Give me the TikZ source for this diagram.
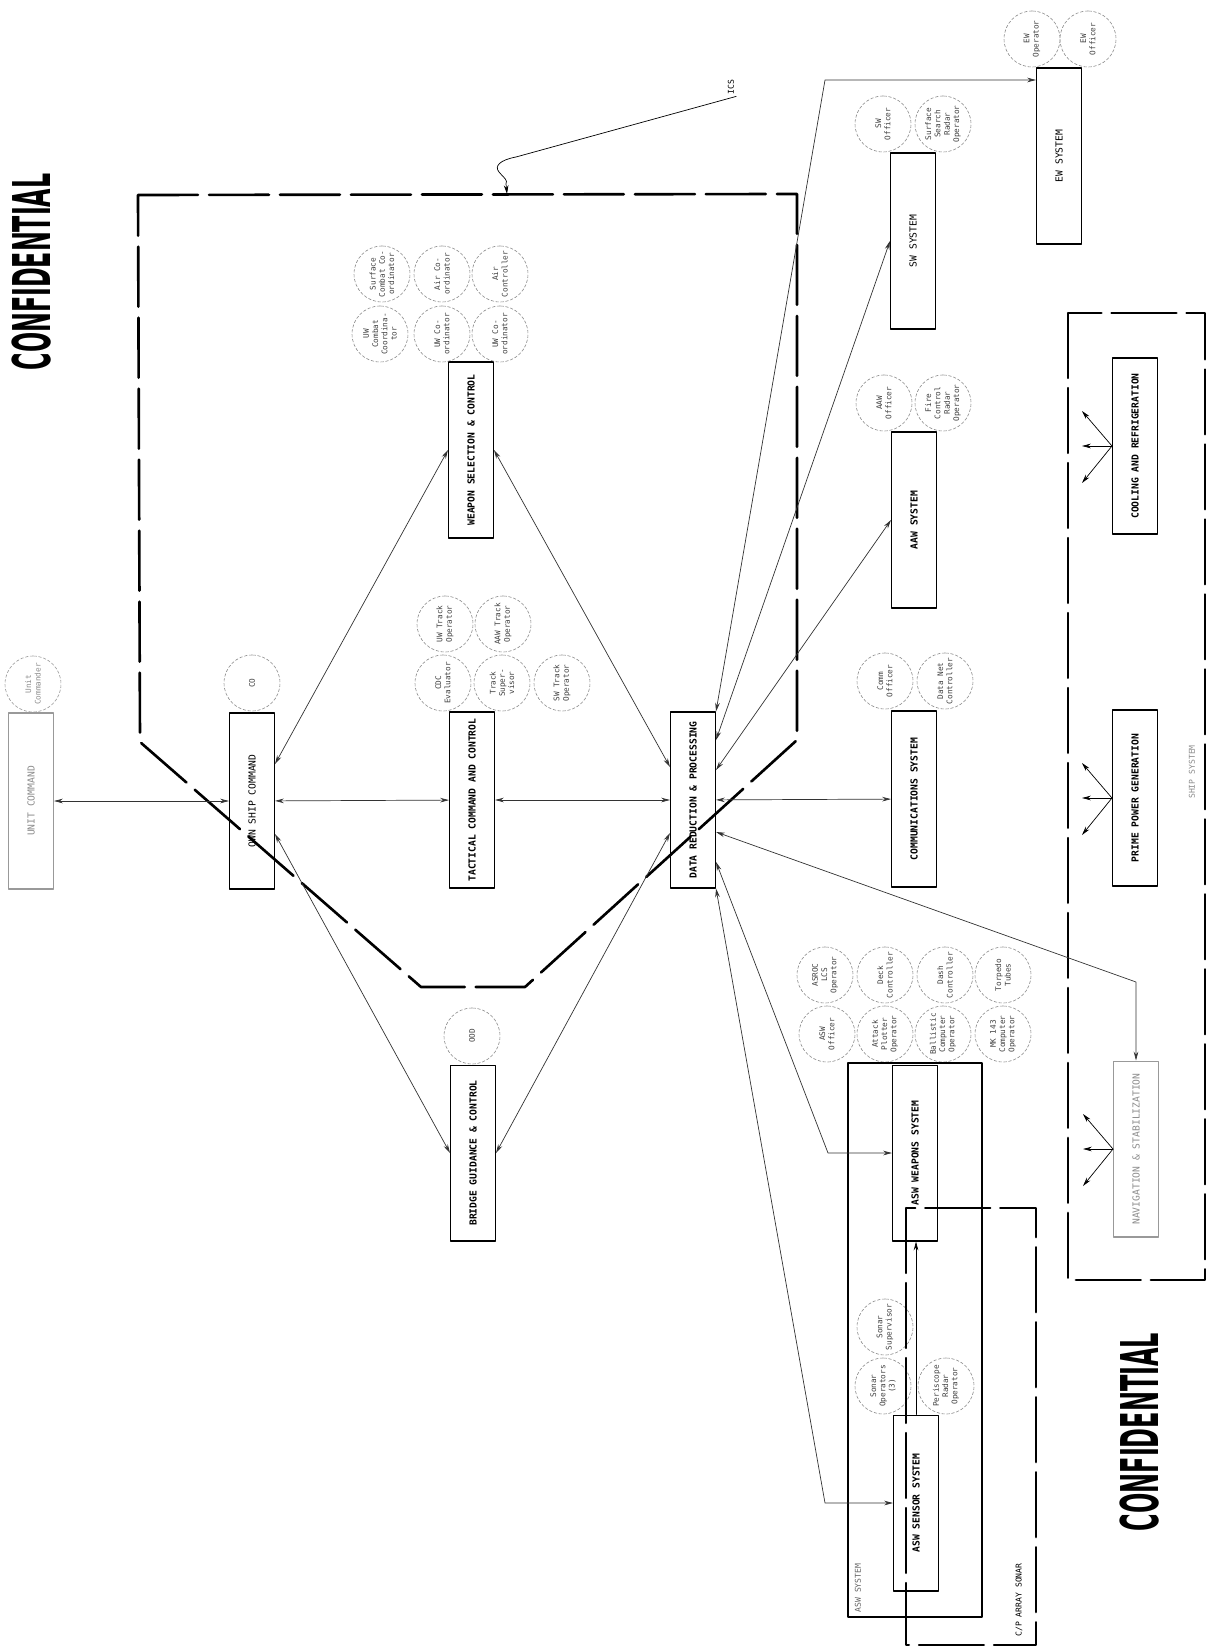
\documentclass[tikz,border=0pt]{standalone}
\usepackage{fontspec}
\setmonofont{DejaVu Sans Mono}
\setsansfont{DejaVu Sans}
\usepackage{graphicx}
\usetikzlibrary{arrows.meta,calc}
\tikzset{
  every picture/.style={line join=round, line cap=round, >={Stealth[length=5pt,width=2.6pt]}},
  sysbox/.style={draw, line width=0.6pt, minimum width=0.9cm, minimum height=3.52cm, inner sep=0pt, font=\ttfamily\fontsize{5.5}{6}\selectfont},
  faint/.style={draw=black!40, text=black!45},
  person/.style={circle, draw=black!45, dash pattern=on 1.6pt off 1.2pt, line width=0.35pt, minimum size=1.12cm, inner sep=-3pt, rotate=90, align=center, font=\ttfamily\fontsize{4.4}{5.3}\selectfont, text=black!75},
  link/.style={<->, line width=0.4pt, draw=black!80},
  icsline/.style={line width=1.5pt, dash pattern=on 1.2cm off 0.22cm},
  groupline/.style={line width=1.3pt, dash pattern=on 1.3cm off 0.2cm},
  stamp/.style={rotate=90, inner sep=0pt, font=\sffamily\bfseries},
  tag/.style={rotate=90, inner sep=1pt, font=\ttfamily\fontsize{4.6}{5}\selectfont},
}

\begin{document}
\begin{tikzpicture}[x=0.02cm,y=-0.02cm]
\useasboundingbox (0,0) rectangle (1209,1648);

\node[stamp] (conftop) at (32,272) {\resizebox{112pt}{22pt}{CONFIDENTIAL}};
\node[stamp] (confbot) at (1140,1432) {\resizebox{113pt}{22pt}{CONFIDENTIAL}};

% ICS boundary
\draw[icsline] (138,195) -- (797,194) -- (797,740) -- (525,987) -- (421,987) -- (140,742) -- cycle;
\node[tag] (ics) at (731,87) {ICS};
\coordinate (icsedge) at (507,194);
\draw[->,line width=0.4pt] (ics.south west) -- (516,157) .. controls (500,160) and (494,166) .. (499,172)
  .. controls (504,178) and (508,180) .. (506,184) -- (icsedge);

% systems
\node[sysbox,faint] (unit) at (31,801) {\rotatebox{90}{UNIT COMMAND}};
\node[sysbox] (own) at (252,801) {\rotatebox{90}{OWN SHIP COMMAND}};
\node[sysbox] (tcc) at (472,800) {\rotatebox{90}{\textbf{TACTICAL COMMAND AND CONTROL}}};
\node[sysbox] (wsc) at (471,450) {\rotatebox{90}{\textbf{WEAPON SELECTION \& CONTROL}}};
\node[sysbox] (bgc) at (473,1153) {\rotatebox{90}{\textbf{BRIDGE GUIDANCE \& CONTROL}}};
\node[sysbox] (drp) at (693,800) {\rotatebox{90}{\textbf{DATA REDUCTION \& PROCESSING}}};
\node[sysbox] (comm) at (914,799) {\rotatebox{90}{\textbf{COMMUNICATIONS SYSTEM}}};
\node[sysbox] (aaw) at (914,520) {\rotatebox{90}{\textbf{AAW SYSTEM}}};
\node[sysbox] (sw) at (913,241) {\rotatebox{90}{SW SYSTEM}};
\node[sysbox] (ew) at (1059,156) {\rotatebox{90}{EW SYSTEM}};
\node[sysbox] (aswweap) at (915,1153) {\rotatebox{90}{\textbf{ASW WEAPONS SYSTEM}}};
\node[sysbox] (aswsens) at (916,1503) {\rotatebox{90}{\textbf{ASW SENSOR SYSTEM}}};
\node[sysbox] (cool) at (1135,446) {\rotatebox{90}{\textbf{COOLING AND REFRIGERATION}}};
\node[sysbox] (prime) at (1135,798) {\rotatebox{90}{\textbf{PRIME POWER GENERATION}}};
\node[sysbox,faint] (nav) at (1136,1149) {\rotatebox{90}{NAVIGATION \& STABILIZATION}};

% operators
\node[person,faint] (unitcdr) at (33,684) {Unit\\Commander};
\node[person] (co) at (252,683) {CO};
\node[person] (ood) at (472,1036) {OOD};
\node[person] (uwcc) at (380,334) {UW\\Combat\\Coordina-\\tor};
\node[person] (uwco1) at (442,334) {UW Co-\\ordinator};
\node[person] (uwco2) at (500,334) {UW Co-\\ordinator};
\node[person] (sfcc) at (382,274) {Surface\\Combat Co-\\ordinator};
\node[person] (airco) at (442,274) {Air Co-\\ordinator};
\node[person] (airctl) at (500,274) {Air\\Controller};
\node[person] (cdc) at (443,683) {CDC\\Evaluator};
\node[person] (trksup) at (502,683) {Track\\Super-\\visor};
\node[person] (swtrk) at (562,683) {SW Track\\Operator};
\node[person] (uwtrk) at (445,624) {UW Track\\Operator};
\node[person] (aawtrk) at (503,624) {AAW Track\\Operator};
\node[person] (commoff) at (885,681) {Comm\\Officer};
\node[person] (datanet) at (945,681) {Data Net\\Controller};
\node[person] (aawoff) at (884,403) {AAW\\Officer};
\node[person] (fcrad) at (943,403) {Fire\\Control\\Radar\\Operator};
\node[person] (swoff) at (883,124) {SW\\Officer};
\node[person] (ssrad) at (943,124) {Surface\\Search\\Radar\\Operator};
\node[person] (ewop) at (1032,39) {EW\\Operator};
\node[person] (ewoff) at (1088,39) {EW\\Officer};
\node[person] (aswoff) at (827,1034) {ASW\\Officer};
\node[person] (attack) at (885,1034) {Attack\\Plotter\\Operator};
\node[person] (ballis) at (943,1034) {Ballistic\\Computer\\Operator};
\node[person] (mk) at (1003,1034) {MK 143\\Computer\\Operator};
\node[person] (asroc) at (825,975) {ASROC\\LCS\\Operator};
\node[person] (deck) at (885,975) {Deck\\Controller};
\node[person] (dash) at (945,975) {Dash\\Controller};
\node[person] (torp) at (1003,975) {Torpedo\\Tubes};
\node[person] (sonop) at (883,1386) {Sonar\\Operators\\(3)};
\node[person] (sonsup) at (885,1327) {Sonar\\Supervisor};
\node[person] (peri) at (946,1386) {Periscope\\Radar\\Operator};

% groups
\draw[line width=1.5pt] (848,1063) rectangle (982,1617);
\node[tag,text=black!60] (aswlbl) at (858,1588) {ASW SYSTEM};
\draw[groupline] (906,1208) rectangle (1036,1645);
\node[tag] (cplbl) at (1019,1600) {C/P ARRAY SONAR};
\draw[groupline] (1068,313) rectangle (1205,1280);
\node[tag,text=black!45] (shiplbl) at (1192,772) {SHIP SYSTEM};

% links
\draw[link] (unit) -- (own);
\draw[link] (own) -- (tcc);
\draw[link] (tcc) -- (drp);
\draw[link] (drp) -- (comm);
\draw[link] ([yshift=0.74cm]own.east) -- (wsc.west);
\draw[link] (wsc.east) -- ([yshift=0.66cm]drp.west);
\draw[link] ([yshift=-0.66cm]own.east) -- (bgc.west);
\draw[link] (bgc.east) -- ([yshift=-0.66cm]drp.west);
\coordinate (ewbend) at (825,80);
\draw[link] (drp.north east) -- (ewbend) -- (ewbend -| ew.west);
\draw[link] ([yshift=1.2cm]drp.east) -- (sw.west);
\draw[link] ([yshift=0.6cm]drp.east) -- (aaw.west);
\coordinate (navbend) at (1136,982);
\draw[link] ([yshift=-0.64cm]drp.east) -- (navbend) -- (nav.north);
\coordinate (weapbend) at (828,1153);
\draw[link] ([yshift=-1.24cm]drp.east) -- (weapbend) -- (aswweap.west);
\coordinate (sensbend) at (825,1503);
\draw[link] (drp.south east) -- (sensbend) -- (aswsens.west);
\draw[->,line width=0.4pt] (aswsens.north) -- (aswsens.north |- aswweap.south);
\foreach \sys in {cool,prime,nav}
  \foreach \dy in {-35,0,37}
    \draw[->,line width=0.4pt] (\sys.west) -- ++(-30,\dy);
\end{tikzpicture}
\end{document}
